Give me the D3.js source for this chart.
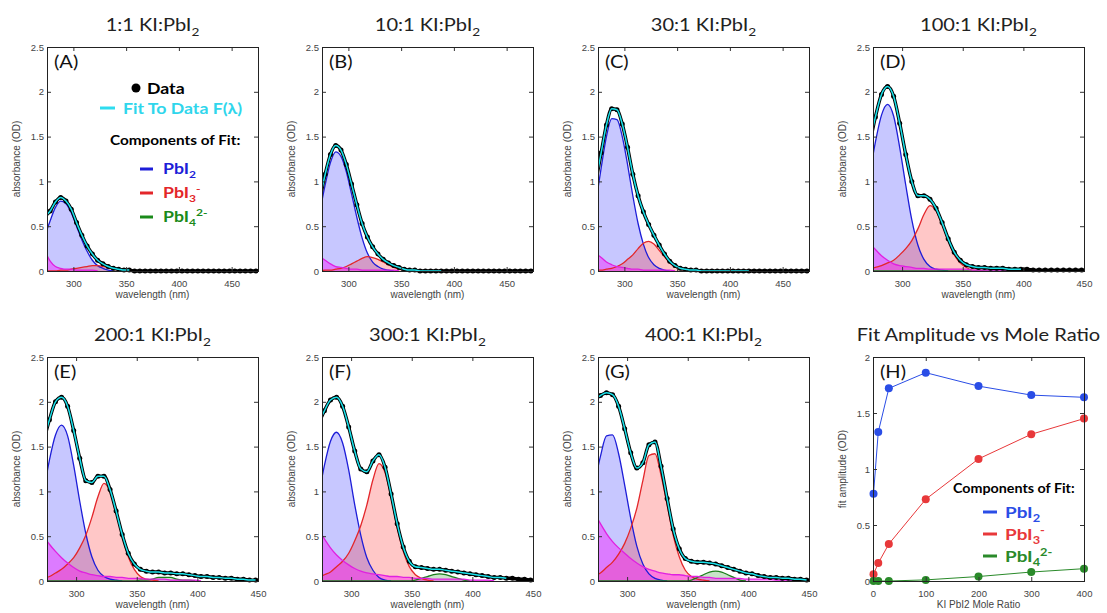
<!DOCTYPE html>
<html lang="en">
<head>
<meta charset="UTF-8">
<title>KI:PbI2 absorbance fits</title>
<script src="https://d3js.org/d3.v7.min.js"></script>
<style>
  body { margin: 0; background: #fff; }
  .tick-label { font-family: "Liberation Sans", Arial, sans-serif; font-size: 9.5px; fill: #444; }
  .axis-title { font-family: "Liberation Sans", Arial, sans-serif; font-size: 10px; fill: #444; }
  .tick line { stroke: #333; }
</style>
</head>
<body>
<svg id="chart" width="1107" height="613"></svg>
<script>
// ---- data ----
const ratios = ["1:1", "10:1", "30:1", "100:1", "200:1", "300:1", "400:1"];
const letters = ["(A)", "(B)", "(C)", "(D)", "(E)", "(F)", "(G)"];

// shared wavelength grid (nm)
const wavelength = [273, 278, 283, 288, 293, 298, 303, 308, 313, 318, 323, 328, 333, 338, 343, 348, 353, 358, 363, 368,
  373, 378, 383, 388, 393, 398, 403, 408, 413, 418, 423, 428, 433, 438, 443, 448, 453, 458, 463, 468, 473, 478];

const xLimits = [[275, 475], [275, 475], [275, 475], [276, 450], [276, 450], [276, 450], [276, 450]];
// last wavelength covered by the fit curve
const fitEnd = [355, 390, 420, 400, 450, 430, 450];

// measured absorbance (OD)
const absorbance = [
  [0.61, 0.67, 0.77, 0.82, 0.78, 0.69, 0.54, 0.40, 0.28, 0.19, 0.12, 0.08, 0.05, 0.03, 0.02, 0.01, 0.01, 0, 0, 0,
   0, 0, 0, 0, 0, 0, 0, 0, 0, 0, 0, 0, 0, 0, 0, 0, 0, 0, 0, 0, 0, 0],
  [0.80, 1.08, 1.30, 1.40, 1.35, 1.19, 0.97, 0.74, 0.53, 0.38, 0.27, 0.19, 0.13, 0.09, 0.06, 0.04, 0.02, 0.01, 0.01, 0,
   0, 0, 0, 0, 0, 0, 0, 0, 0, 0, 0, 0, 0, 0, 0, 0, 0, 0, 0, 0, 0, 0],
  [1.00, 1.32, 1.63, 1.81, 1.80, 1.64, 1.38, 1.08, 0.84, 0.66, 0.52, 0.40, 0.29, 0.19, 0.11, 0.06, 0.03, 0.02, 0.01, 0.01,
   0, 0, 0, 0, 0, 0, 0, 0, 0, 0, 0, 0, 0, 0, 0, 0, 0, 0, 0, 0, 0, 0],
  [1.40, 1.72, 1.97, 2.06, 1.95, 1.65, 1.30, 1.00, 0.84, 0.84, 0.80, 0.70, 0.54, 0.36, 0.21, 0.12, 0.07, 0.05, 0.04, 0.04,
   0.03, 0.03, 0.03, 0.02, 0.02, 0.02, 0.02, 0.01, 0.01, 0.01, 0.01, 0.01, 0.01, 0.01, 0.01, 0.01, 0.01],
  [1.55, 1.80, 2.00, 2.05, 1.95, 1.68, 1.37, 1.12, 1.10, 1.17, 1.17, 1.02, 0.78, 0.52, 0.31, 0.19, 0.13, 0.11, 0.10, 0.10,
   0.09, 0.09, 0.08, 0.08, 0.07, 0.06, 0.05, 0.05, 0.04, 0.04, 0.03, 0.03, 0.02, 0.02, 0.01, 0.01, 0.01],
  [1.75, 1.90, 2.02, 2.05, 1.95, 1.72, 1.45, 1.25, 1.22, 1.34, 1.41, 1.27, 0.97, 0.64, 0.38, 0.22, 0.16, 0.15, 0.14, 0.13,
   0.13, 0.12, 0.11, 0.10, 0.09, 0.08, 0.07, 0.06, 0.05, 0.04, 0.04, 0.03, 0.03, 0.02, 0.02, 0.01, 0.01],
  [2.02, 2.07, 2.10, 2.08, 1.95, 1.70, 1.43, 1.26, 1.32, 1.52, 1.55, 1.28, 0.92, 0.58, 0.36, 0.25, 0.22, 0.21, 0.21, 0.20,
   0.19, 0.17, 0.15, 0.13, 0.11, 0.09, 0.08, 0.06, 0.05, 0.04, 0.04, 0.03, 0.03, 0.02, 0.02, 0.01, 0.01]
];

// fit components (OD), same grid
const compPbI2 = [
  [0.39, 0.56, 0.71, 0.78, 0.75, 0.65, 0.50, 0.35, 0.22, 0.12, 0.06, 0.03, 0.01, 0],
  [0.66, 0.96, 1.21, 1.33, 1.28, 1.11, 0.86, 0.60, 0.37, 0.20, 0.10, 0.05, 0.02, 0.01, 0],
  [0.77, 1.15, 1.50, 1.70, 1.69, 1.50, 1.19, 0.84, 0.53, 0.30, 0.15, 0.07, 0.03, 0.01, 0],
  [1.05, 1.44, 1.74, 1.86, 1.73, 1.38, 0.96, 0.57, 0.29, 0.13, 0.05, 0.02, 0.01, 0],
  [0.98, 1.35, 1.63, 1.74, 1.62, 1.29, 0.89, 0.53, 0.27, 0.12, 0.05, 0.02, 0.01, 0],
  [0.93, 1.29, 1.56, 1.66, 1.54, 1.24, 0.85, 0.51, 0.26, 0.12, 0.04, 0.01, 0],
  [1.07, 1.39, 1.62, 1.63, 1.42, 1.07, 0.70, 0.39, 0.19, 0.08, 0.03, 0.01, 0]
];
const compPbI3 = [
  [0, 0, 0, 0.01, 0.01, 0.02, 0.03, 0.04, 0.05, 0.06, 0.06, 0.05, 0.04, 0.03, 0.02, 0.01, 0],
  [0, 0.01, 0.01, 0.02, 0.03, 0.05, 0.08, 0.11, 0.14, 0.16, 0.15, 0.13, 0.10, 0.07, 0.04, 0.02, 0.01, 0],
  [0.01, 0.01, 0.02, 0.03, 0.05, 0.08, 0.13, 0.18, 0.25, 0.31, 0.33, 0.30, 0.23, 0.16, 0.09, 0.05, 0.02, 0.01, 0],
  [0.02, 0.04, 0.06, 0.09, 0.12, 0.18, 0.25, 0.34, 0.47, 0.63, 0.73, 0.67, 0.52, 0.34, 0.18, 0.09, 0.04, 0.01, 0.01, 0],
  [0.03, 0.05, 0.09, 0.13, 0.19, 0.26, 0.37, 0.51, 0.71, 0.94, 1.09, 1.00, 0.77, 0.50, 0.27, 0.13, 0.05, 0.02, 0.01, 0],
  [0.04, 0.07, 0.10, 0.16, 0.22, 0.31, 0.45, 0.62, 0.85, 1.13, 1.31, 1.21, 0.93, 0.60, 0.33, 0.16, 0.07, 0.03, 0.01, 0],
  [0.06, 0.09, 0.15, 0.21, 0.30, 0.42, 0.59, 0.81, 1.12, 1.40, 1.42, 1.18, 0.85, 0.51, 0.27, 0.12, 0.05, 0.02, 0.01, 0]
];
const compPbI4 = [
  [],
  [],
  [],
  [0, 0, 0, 0, 0, 0, 0, 0, 0, 0, 0, 0, 0, 0, 0, 0, 0, 0, 0.01, 0.01, 0.01, 0.01, 0.01, 0],
  [0, 0, 0, 0, 0, 0, 0, 0, 0, 0, 0, 0, 0, 0, 0, 0, 0.01, 0.01, 0.02, 0.04, 0.04, 0.04, 0.02, 0.01, 0.01, 0],
  [0, 0, 0, 0, 0, 0, 0, 0, 0, 0, 0, 0, 0, 0, 0, 0, 0.01, 0.03, 0.05, 0.07, 0.08, 0.07, 0.05, 0.03, 0.01, 0],
  [0, 0, 0, 0, 0, 0, 0, 0, 0, 0, 0, 0, 0, 0, 0, 0, 0.01, 0.04, 0.07, 0.10, 0.11, 0.10, 0.07, 0.04, 0.01, 0]
];
// UV background term (magenta)
const compUV = [
  [0.22, 0.11, 0.05, 0.03, 0.02, 0.02, 0.01, 0.01, 0.01, 0.01, 0],
  [0.16, 0.12, 0.08, 0.05, 0.04, 0.03, 0.02, 0.02, 0.01, 0.01, 0.01, 0.01, 0.01, 0.01, 0.01, 0],
  [0.19, 0.15, 0.10, 0.07, 0.05, 0.04, 0.03, 0.02, 0.02, 0.01, 0.01, 0.01, 0.01, 0.01, 0.01, 0],
  [0.32, 0.24, 0.17, 0.12, 0.08, 0.06, 0.05, 0.04, 0.03, 0.03, 0.02, 0.02, 0.02, 0.02, 0.02, 0.02, 0.02, 0.01, 0.01, 0.01,
   0.01, 0.01, 0.01, 0.01, 0.01, 0],
  [0.51, 0.41, 0.33, 0.26, 0.20, 0.15, 0.11, 0.09, 0.07, 0.06, 0.05, 0.05, 0.04, 0.04, 0.03, 0.03, 0.03, 0.02, 0.02, 0.02,
   0.02, 0.01, 0.01, 0.01, 0.01, 0.01, 0],
  [0.58, 0.47, 0.37, 0.29, 0.23, 0.18, 0.14, 0.11, 0.09, 0.08, 0.07, 0.06, 0.05, 0.05, 0.04, 0.04, 0.03, 0.03, 0.03, 0.02,
   0.02, 0.02, 0.02, 0.02, 0.02, 0.01, 0.01, 0.01, 0.01, 0],
  [0.76, 0.64, 0.53, 0.44, 0.37, 0.31, 0.25, 0.20, 0.16, 0.13, 0.11, 0.09, 0.08, 0.07, 0.07, 0.06, 0.05, 0.05, 0.04, 0.04,
   0.03, 0.03, 0.03, 0.03, 0.03, 0.02, 0.02, 0.02, 0.02, 0.02, 0.01, 0.01, 0.01, 0.01, 0.01, 0.01, 0.01]
];

// panel H: fitted amplitudes vs KI:PbI2 mole ratio
const moleRatio = [1, 10, 30, 100, 200, 300, 400];
const ampPbI2 = [0.78, 1.33, 1.72, 1.86, 1.74, 1.66, 1.64];
const ampPbI3 = [0.06, 0.16, 0.33, 0.73, 1.09, 1.31, 1.45];
const ampPbI4 = [0, 0, 0, 0.01, 0.04, 0.08, 0.11];

const nmTicks = [300, 350, 400, 450];
const odTicks = [0, 0.5, 1, 1.5, 2, 2.5];
const ratioTicks = [0, 100, 200, 300, 400];
const ampTicks = [0, 0.5, 1, 1.5, 2];

// ---- layout ----
const colX = [47, 322, 598, 873], rowY = [47, 357];
const W = 211, H = 224;
const STRETCH = 1.18;
const FONT = "Lato, 'Open Sans', sans-serif";

const svg = d3.select("#chart");
const defs = svg.append("defs");

function chem(text, parts, size) {
  let shift = 0;
  parts.forEach(([t, role]) => {
    const target = role === "sub" ? size * 0.28 : role === "sup" ? -size * 0.4 : 0;
    text.append("tspan")
      .attr("dy", target - shift)
      .attr("font-size", role === "base" ? size : size * 0.68)
      .text(t);
    shift = target;
  });
}

function overlay(x, y, size, color, bold, parts, anchor, sx) {
  const t = svg.append("g")
    .attr("transform", `translate(${x},${y}) scale(${sx || STRETCH},1)`)
    .append("text")
    .attr("font-family", FONT)
    .attr("font-size", size)
    .attr("font-weight", bold ? 700 : 400)
    .attr("fill", color)
    .attr("text-anchor", anchor || "start");
  chem(t, parts, size);
  return t;
}

function drawAxes(g, x, y, xTicks, yTicks, xTitle, yTitle) {
  const fmt = d => String(d);
  g.append("g").attr("transform", `translate(0,${H})`)
    .call(d3.axisBottom(x).tickValues(xTicks).tickSizeInner(-4).tickSizeOuter(0).tickPadding(9).tickFormat(fmt));
  g.append("g")
    .call(d3.axisTop(x).tickValues(xTicks).tickSizeInner(-4).tickSizeOuter(0).tickFormat(""));
  g.append("g")
    .call(d3.axisLeft(y).tickValues(yTicks).tickSizeInner(-4).tickSizeOuter(0).tickPadding(3).tickFormat(fmt));
  g.append("g").attr("transform", `translate(${W},0)`)
    .call(d3.axisRight(y).tickValues(yTicks).tickSizeInner(-4).tickSizeOuter(0).tickFormat(""));
  g.selectAll(".domain").remove();
  g.selectAll(".tick text").attr("class", "tick-label");

  g.append("rect")
    .attr("x", 0.5).attr("y", 0.5).attr("width", W).attr("height", H)
    .attr("fill", "none").attr("stroke", "#222").attr("stroke-width", 1);

  g.append("text").attr("class", "axis-title")
    .attr("x", W / 2).attr("y", H + 27).attr("text-anchor", "middle").text(xTitle);
  g.append("text").attr("class", "axis-title")
    .attr("transform", `translate(-27,${H / 2}) rotate(-90)`)
    .attr("text-anchor", "middle").text(yTitle);
}

const components = [
  { values: compPbI2, line: "#1d1dd8", fill: "#0000ff", alpha: 0.22 },
  { values: compPbI3, line: "#e3262a", fill: "#ff0000", alpha: 0.22 },
  { values: compPbI4, line: "#1a7d1a", fill: "#008000", alpha: 0.22 },
  { values: compUV, line: "#e020e0", fill: "#ff00ff", alpha: 0.38 }
];

const toPoints = arr => arr.slice(0, wavelength.length).map((v, k) => [wavelength[k], v]);

// ---- spectra panels A-G ----
ratios.forEach((ratio, i) => {
  const px = colX[i % 4], py = rowY[Math.floor(i / 4)];
  const g = svg.append("g").attr("transform", `translate(${px},${py})`);
  const x = d3.scaleLinear().domain(xLimits[i]).range([0, W]);
  const y = d3.scaleLinear().domain([0, 2.5]).range([H, 0]);

  defs.append("clipPath").attr("id", `clip${i}`)
    .append("rect").attr("x", 0).attr("y", -10).attr("width", W).attr("height", H + 14);

  const plot = g.append("g").attr("clip-path", `url(#clip${i})`);
  const area = d3.area().x(d => x(d[0])).y0(y(0)).y1(d => y(d[1])).curve(d3.curveMonotoneX);
  const line = d3.line().x(d => x(d[0])).y(d => y(d[1])).curve(d3.curveMonotoneX);

  components.forEach(c => {
    const pts = toPoints(c.values[i]);
    if (pts.length < 2) return;
    plot.append("path").attr("d", area(pts)).attr("fill", c.fill).attr("fill-opacity", c.alpha);
  });
  components.forEach(c => {
    const pts = toPoints(c.values[i]);
    if (pts.length < 2) return;
    plot.append("path").attr("d", line(pts)).attr("fill", "none")
      .attr("stroke", c.line).attr("stroke-width", 1.3);
  });

  // data
  const data = toPoints(absorbance[i]);
  plot.append("path").attr("d", line(data)).attr("fill", "none")
    .attr("stroke", "#000").attr("stroke-width", 3.4);
  plot.selectAll("circle.data").data(data).join("circle")
    .attr("class", "data")
    .attr("cx", d => x(d[0])).attr("cy", d => y(d[1])).attr("r", 2.5).attr("fill", "#000");

  // fit
  const fit = data.filter(d => d[0] <= fitEnd[i]);
  plot.append("path").attr("d", line(fit)).attr("fill", "none")
    .attr("stroke", "#19e3ec").attr("stroke-width", 1.5);

  drawAxes(g, x, y, nmTicks, odTicks, "wavelength (nm)", "absorbance (OD)");

  overlay(px + W / 2, py - 16, 17, "#222", false, [[`${ratio} KI:PbI`, "base"], ["2", "sub"]], "middle");
  overlay(px + 7, py + 21, 17, "#111", false, [[letters[i], "base"]]);
});

// ---- legend in panel A ----
(() => {
  const ox = colX[0], oy = rowY[0];
  svg.append("circle").attr("cx", ox + 89).attr("cy", oy + 41).attr("r", 4.5).attr("fill", "#000");
  overlay(ox + 100, oy + 47, 15, "#000", true, [["Data", "base"]]);
  svg.append("line").attr("x1", ox + 53).attr("x2", ox + 68).attr("y1", oy + 61).attr("y2", oy + 61)
    .attr("stroke", "#2fdcef").attr("stroke-width", 3);
  overlay(ox + 76, oy + 67, 15, "#2fd6ec", true, [["Fit To Data F(λ)", "base"]]);
  overlay(ox + 63, oy + 98, 13, "#000", true, [["Components of Fit:", "base"]]);
  const items = [
    { color: "#1d1dd8", parts: [["PbI", "base"], ["2", "sub"]] },
    { color: "#e3262a", parts: [["PbI", "base"], ["3", "sub"], ["-", "sup"]] },
    { color: "#1a8a1a", parts: [["PbI", "base"], ["4", "sub"], ["2-", "sup"]] }
  ];
  items.forEach((it, k) => {
    const ly = oy + 122 + k * 24;
    svg.append("line").attr("x1", ox + 93).attr("x2", ox + 106).attr("y1", ly).attr("y2", ly)
      .attr("stroke", it.color).attr("stroke-width", 3);
    overlay(ox + 116, ly + 5, 15, it.color, true, it.parts);
  });
})();

// ---- panel H ----
(() => {
  const px = colX[3], py = rowY[1];
  const g = svg.append("g").attr("transform", `translate(${px},${py})`);
  const x = d3.scaleLinear().domain([0, 400]).range([0, W]);
  const y = d3.scaleLinear().domain([0, 2]).range([H, 0]);

  const series = [
    { values: ampPbI2, color: "#2a4de6" },
    { values: ampPbI3, color: "#e8383a" },
    { values: ampPbI4, color: "#2a8a2a" }
  ];
  const line = d3.line().x((d, k) => x(moleRatio[k])).y(d => y(d));
  series.forEach(s => {
    g.append("path").attr("d", line(s.values)).attr("fill", "none")
      .attr("stroke", s.color).attr("stroke-width", 1);
    g.selectAll(null).data(s.values).join("circle")
      .attr("cx", (d, k) => x(moleRatio[k])).attr("cy", d => y(d)).attr("r", 4)
      .attr("fill", s.color);
  });

  drawAxes(g, x, y, ratioTicks, ampTicks, "KI PbI2 Mole Ratio", "fit amplitude (OD)");

  overlay(px + W / 2, py - 16, 17, "#222", false, [["Fit Amplitude vs Mole Ratio", "base"]], "middle");
  overlay(px + 7, py + 21, 17, "#111", false, [["(H)", "base"]]);

  overlay(px + 80, py + 136, 13, "#000", true, [["Components of Fit:", "base"]], "start", 1.1);
  const items = [
    { color: "#2a4de6", parts: [["PbI", "base"], ["2", "sub"]] },
    { color: "#e8383a", parts: [["PbI", "base"], ["3", "sub"], ["-", "sup"]] },
    { color: "#2a8a2a", parts: [["PbI", "base"], ["4", "sub"], ["2-", "sup"]] }
  ];
  items.forEach((it, k) => {
    const ly = py + 155 + k * 22;
    svg.append("line").attr("x1", px + 110).attr("x2", px + 124).attr("y1", ly).attr("y2", ly)
      .attr("stroke", it.color).attr("stroke-width", 3);
    overlay(px + 132, ly + 6, 16, it.color, true, it.parts);
  });
})();
</script>
</body>
</html>
